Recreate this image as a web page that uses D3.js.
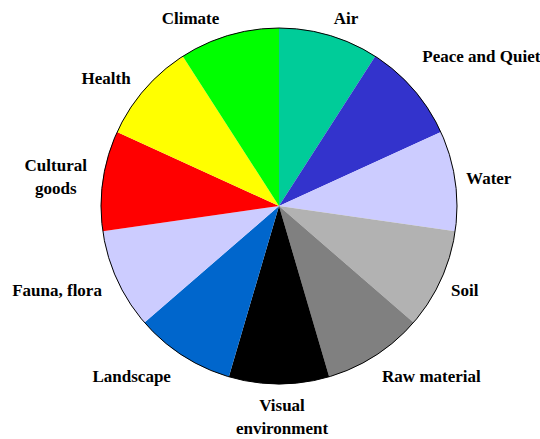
<!DOCTYPE html>
<html>
<head>
<meta charset="utf-8">
<script src="https://cdn.jsdelivr.net/npm/d3@7"></script>
<style>
  body { margin: 0; background: #fff; }
  svg text { font-family: "Liberation Serif", "Times New Roman", serif; font-weight: bold; font-size: 17px; fill: #000; }
</style>
</head>
<body>
<div id="chart"></div>
<script>
// slices, clockwise from 12 o'clock
const labels = ["Air", "Peace and Quiet", "Water", "Soil", "Raw material", "Visual\nenvironment",
    "Landscape", "Fauna, flora", "Cultural\ngoods", "Health", "Climate"];
const values = [1, 1, 1, 1, 1, 1, 1, 1, 1, 1, 1];
const colors = ["#00cc99", "#3333cc", "#ccccff", "#b2b2b2", "#808080", "#000000",
    "#0066cc", "#ccccff", "#ff0000", "#ffff00", "#00ff00"];

const svgWidth = 540;
const svgHeight = 439;
const cx = 279, cy = 206, radius = 178;

const svg = d3.select("#chart").append("svg")
    .attr("width", svgWidth)
    .attr("height", svgHeight);

const pieG = svg.append("g")
    .attr("transform", `translate(${cx}, ${cy})`);

const pie = d3.pie().sort(null).value(d => d);
const arcs = pie(values);
const arc = d3.arc().innerRadius(0).outerRadius(radius);

pieG.selectAll("path.slice")
    .data(arcs)
    .enter()
    .append("path")
    .attr("class", "slice")
    .attr("d", arc)
    .attr("fill", (d, i) => colors[i]);

// outline
pieG.append("circle")
    .attr("r", radius)
    .attr("fill", "none")
    .attr("stroke", "#000")
    .attr("stroke-width", 1);

// labels just outside the slice edge
const lineH = 23;
const nudge = { "Peace and Quiet": -22 }; // dragged up in the original
pieG.selectAll("text.lbl")
    .data(arcs)
    .enter()
    .append("text")
    .attr("class", "lbl")
    .each(function(d, i) {
        const a = (d.startAngle + d.endAngle) / 2;
        const s = Math.sin(a), c = Math.cos(a);
        let x = s * (radius + 9);
        let y = -c * (radius + 9);
        const lines = labels[i].split("\n");
        const h = lines.length * 18;
        y = y - c * h / 2 + Math.max(0, -c) * 6 + (nudge[labels[i]] || 0);
        const t = d3.select(this).attr("text-anchor", "middle");
        const top = y - (lines.length - 1) * lineH / 2;
        const spans = lines.map((ln, k) => t.append("tspan")
            .attr("y", top + k * lineH)
            .attr("dy", "0.35em")
            .text(ln));
        // block width -> centre of the block
        const w = d3.max(spans, sp => sp.node().getComputedTextLength());
        const mx = s > 0.05 ? x + 2 + w / 2 : s < -0.05 ? x - 7 - w / 2 : x + 3;
        spans.forEach(sp => sp.attr("x", mx));
    });
</script>
</body>
</html>
